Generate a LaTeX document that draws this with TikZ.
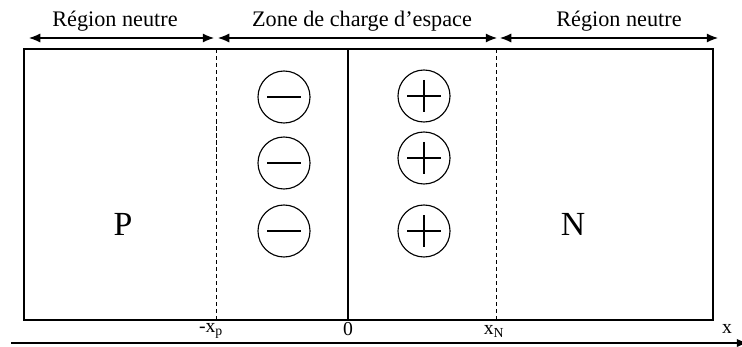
\documentclass[tikz,border=0pt]{standalone}
\usepackage{fontspec}
\setmainfont{Liberation Serif}
\usetikzlibrary{arrows.meta}

\tikzset{
  ion/.style={circle, draw, line width=0.8pt, minimum size=1.3cm, inner sep=0pt},
  anion/.style={ion, path picture={
      \draw[line width=0.8pt, shift={(path picture bounding box.center)}] (-17,0) -- (17,0);}},
  cation/.style={ion, path picture={
      \draw[line width=0.8pt, shift={(path picture bounding box.center)}] (-17,0) -- (17,0) (0,-16) -- (0,16);}},
  zone/.style={{Latex[length=8pt,width=6.5pt]}-{Latex[length=8pt,width=6.5pt]}, line width=0.8pt},
  axislabel/.style={font=\fontsize{14}{16}\selectfont, inner sep=0pt}
}

\begin{document}
\begin{tikzpicture}[x=0.025cm, y=-0.025cm]
    \useasboundingbox (0,0) rectangle (742,347);

    % Outer block and junction boundaries
    \draw[line width=0.8pt] (24,49) rectangle (713,320);
    \coordinate (xp top) at (216,49);   \coordinate (xp bot) at (216,320);
    \coordinate (o top) at (348,49);    \coordinate (o bot) at (348,320);
    \coordinate (xn top) at (496,49);   \coordinate (xn bot) at (496,320);
    \draw[dashed, dash pattern=on 3pt off 2pt, line width=0.7pt] (xp top) -- (xp bot);
    \draw[line width=0.8pt] (o top) -- (o bot);
    \draw[dashed, dash pattern=on 3pt off 2pt, line width=0.7pt] (xn top) -- (xn bot);

    % Extent of each region
    \coordinate (a0) at (29,38);
    \coordinate (a1) at (214,38);
    \coordinate (a2) at (218,38);
    \coordinate (a3) at (497,38);
    \coordinate (a4) at (500,38);
    \coordinate (a5) at (718,38);
    \draw[zone] (a0) -- (a1);
    \draw[zone] (a2) -- (a3);
    \draw[zone] (a4) -- (a5);
    \node[font=\fontsize{15.8}{18}\selectfont] (lp) at (115,21) {Région neutre};
    \node[font=\fontsize{15.8}{18}\selectfont] (lz) at (362,21) {Zone de charge d’espace};
    \node[font=\fontsize{15.8}{18}\selectfont] (ln) at (619,21) {Région neutre};

    % Fixed charges
    \node[anion] (m1) at (284,97) {};
    \node[anion] (m2) at (284,163) {};
    \node[anion] (m3) at (284,231) {};
    \node[cation] (p1) at (424,96) {};
    \node[cation] (p2) at (424,158) {};
    \node[cation] (p3) at (424,231) {};

    % Doping labels
    \node[font=\fontsize{24}{28}\selectfont] (P) at (123,224) {P};
    \node[font=\fontsize{24}{28}\selectfont] (N) at (573,224) {N};

    % x axis
    \coordinate (x0) at (11,343);
    \coordinate (x1) at (748,343);
    \draw[-{Latex[length=8pt,width=6pt]}, line width=1.2pt] (x0) -- (x1);
    \node[axislabel] (lxp) at (211,331) {-x\textsubscript{p}};
    \node[axislabel] (l0) at (348,329) {0};
    \node[axislabel] (lxn) at (494,331) {x\textsubscript{N}};
    \node[axislabel] (lx) at (727,329) {x};
\end{tikzpicture}
\end{document}
